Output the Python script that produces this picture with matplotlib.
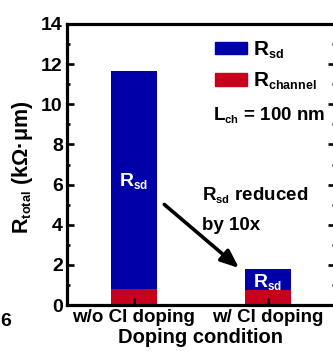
import matplotlib
matplotlib.use('Agg')
import matplotlib.pyplot as plt
import matplotlib._mathtext as mathtext_internal
from matplotlib.patches import Patch
from matplotlib.ticker import MultipleLocator

# smaller subscripts, like the original figure
mathtext_internal.SHRINK_FACTOR = 0.6

# data
conditions = ['w/o Cl doping', 'w/ Cl doping']
r_channel = [0.78, 0.76]
r_sd = [10.9, 1.02]

blue = '#0000A8'
red = '#C8001E'

plt.rcParams['font.family'] = ['Liberation Sans', 'DejaVu Sans']
plt.rcParams['font.weight'] = 'bold'
plt.rcParams['mathtext.fontset'] = 'custom'
plt.rcParams['mathtext.rm'] = 'Liberation Sans:bold'
plt.rcParams['mathtext.it'] = 'Liberation Sans:bold'
plt.rcParams['mathtext.bf'] = 'Liberation Sans:bold'

fig = plt.figure(figsize=(3.33, 3.58), dpi=100)
ax = fig.add_axes([67/333, 53/358, 268/333, 281/358])

x = range(len(conditions))
ax.bar(x, r_channel, width=0.35, color=red)
ax.bar(x, r_sd, width=0.35, bottom=r_channel, color=blue)

ax.set_xlim(-0.5, 1.5)
ax.set_ylim(0, 14)
ax.set_xticks(list(x))
ax.set_xticklabels(conditions, fontsize=13.5, fontweight='bold')
ax.yaxis.set_major_locator(MultipleLocator(2))
ax.yaxis.set_minor_locator(MultipleLocator(1))
ax.tick_params(axis='y', which='major', direction='in', length=5, width=1.9,
               labelsize=14, right=True, pad=3)
ax.tick_params(axis='y', which='minor', direction='in', length=2.5, width=1.9, right=True)
ax.tick_params(axis='x', direction='in', length=5, width=1.9, pad=3)
for s in ax.spines.values():
    s.set_linewidth(2.3)

ax.set_xlabel('Doping condition', fontsize=14.5, fontweight='bold', labelpad=1)
ax.set_ylabel(r'$\mathrm{R_{total}}$ (kΩ·μm)', fontsize=15.5, fontweight='bold')
ax.yaxis.set_label_coords(-0.118, 0.49)

# legend
handles = [Patch(color=blue, label=r'$\mathrm{R_{sd}}$'),
           Patch(color=red, label=r'$\mathrm{R_{channel}}$')]
ax.legend(handles=handles, loc='upper left', bbox_to_anchor=(0.52, 0.975), frameon=False,
          fontsize=15, handlelength=1.55, handleheight=0.55, handletextpad=0.3,
          labelspacing=0.5, borderaxespad=0)
ax.text(0.545, 0.676, r'$\mathrm{L_{ch}}$ = 100 nm', transform=ax.transAxes,
        fontsize=13.5, fontweight='bold', va='center', ha='left')

# bar labels
ax.text(0, 6.2, r'$\mathrm{R_{sd}}$', color='white', fontsize=14, ha='center', va='center')
ax.text(1, 1.15, r'$\mathrm{R_{sd}}$', color='white', fontsize=14, ha='center', va='center')

# annotation
ax.annotate('', xy=(0.8, 1.75), xytext=(0.21, 5.1),
            arrowprops=dict(arrowstyle='-|>,head_length=1.1,head_width=0.45',
                            color='black', lw=2.6))
ax.text(0.51, 5.5, r'$\mathrm{R_{sd}}$ reduced', fontsize=13.5, ha='left', va='center')
ax.text(0.51, 3.95, 'by 10x', fontsize=13.5, ha='left', va='center')

# leftover label from neighbouring panel
fig.text(0.0, 1 - 321/358, '6', fontsize=14, fontweight='bold', ha='left', va='center')

plt.savefig('out.png', dpi=100)
